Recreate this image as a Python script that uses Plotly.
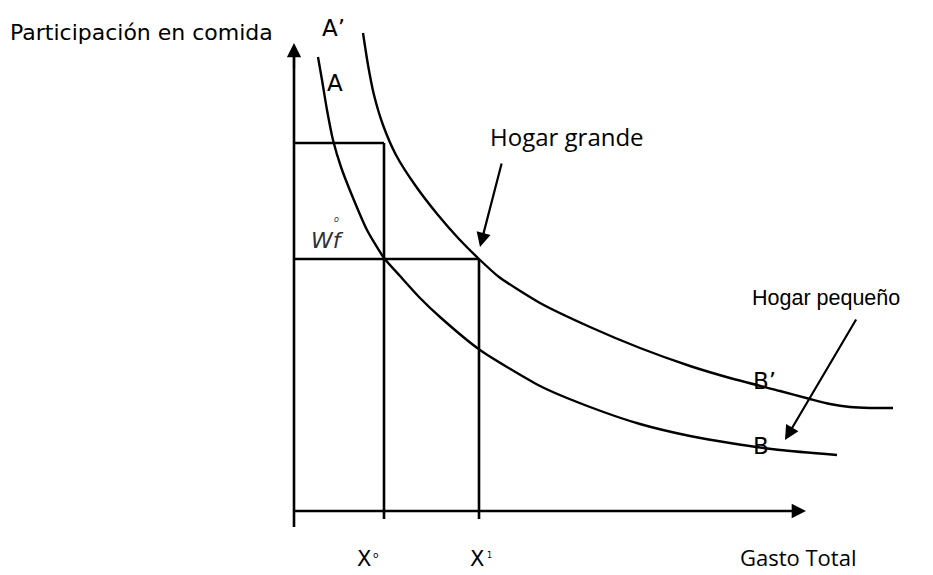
import plotly.graph_objects as go

# Curve A (small household, AB) and A' (large household, A'B') (pixel space)
curve_a_x = [318, 322, 327, 333, 341, 351, 367, 384, 400, 420, 440, 480, 540, 590, 640, 690, 730, 780, 837]
curve_a_y = [57, 80, 110, 140, 167, 193, 230, 258, 276, 298, 317, 350, 386, 407, 424, 436, 443, 450, 455]
curve_b_x = [363, 368, 374, 383, 396, 415, 438, 459, 479, 499, 540, 590, 640, 690, 730, 780, 810, 830, 850, 870, 893]
curve_b_y = [33, 65, 95, 125, 155, 185, 215, 239, 259, 277, 303, 327, 348, 366, 378, 391, 399, 404, 407, 408, 408]

# Axis frame
y_axis_x = [294, 294]
y_axis_y = [527, 50]
x_axis_x = [294, 798]
x_axis_y = [511, 511]

# Reference levels
x0_pos, x1_pos = 384, 479
wf_level, top_level = 259, 143
tick_bottom = 519

fig = go.Figure()

def seg(xs, ys, width=2.6):
    fig.add_trace(go.Scatter(x=xs, y=ys, mode="lines",
                             line=dict(color="black", width=width),
                             hoverinfo="skip", showlegend=False))

seg(y_axis_x, y_axis_y)
seg(x_axis_x, x_axis_y)
seg([x0_pos, x0_pos], [top_level, tick_bottom])
seg([x1_pos, x1_pos], [wf_level, tick_bottom])
seg([294, x1_pos], [wf_level, wf_level])
seg([294, x0_pos], [top_level, top_level])

for cx, cy in ((curve_a_x, curve_a_y), (curve_b_x, curve_b_y)):
    fig.add_trace(go.Scatter(x=cx, y=cy, mode="lines",
                             line=dict(color="black", width=2.4, shape="spline", smoothing=0.6),
                             hoverinfo="skip", showlegend=False))

FAM = "DejaVu Sans, sans-serif"
FAM2 = "Open Sans, Noto Sans, sans-serif"

def arrow(x, y, ax, ay):
    fig.add_annotation(x=x, y=y, ax=ax, ay=ay, xref="x", yref="y", axref="x", ayref="y",
                       text="", showarrow=True, arrowhead=2, arrowsize=1.3,
                       arrowwidth=2.2, arrowcolor="black", standoff=0)

# axis arrowheads
arrow(294, 43, 294, 70)
arrow(806, 511, 780, 511)
# label arrows
arrow(480, 247, 502, 162)
arrow(785, 440, 857, 318)

def label(x, y, text, size=22, family=FAM, color="black", anchor="left"):
    fig.add_annotation(x=x, y=y, xref="x", yref="y", text=text, showarrow=False,
                       font=dict(family=family, size=size, color=color),
                       xanchor=anchor, yanchor="middle")

label(8, 32, "Participación en comida", size=22)
label(320, 28, "A’", size=23)
label(325, 83, "A", size=23)
label(488, 136, "Hogar grande", size=24, family=FAM2)
label(309, 240, "<i>Wf</i>", size=22, color="#333333")
label(332, 219, "<i>o</i>", size=8, color="#333333")
label(750, 298, "Hogar pequeño", size=21.5, family="Liberation Sans, Arial, sans-serif")
label(751, 381, "B’", size=23)
label(751, 446, "B", size=23)
label(355, 559, "X", size=21)
label(371, 555, "o", size=9)
label(468, 559, "X", size=21)
label(485, 555, "1", size=8)
label(738, 557, "Gasto Total", size=22, family=FAM2)

fig.update_layout(
    width=933, height=575,
    margin=dict(l=0, r=0, t=0, b=0),
    plot_bgcolor="white", paper_bgcolor="white",
    xaxis=dict(range=[0, 933], visible=False, fixedrange=True),
    yaxis=dict(range=[575, 0], visible=False, fixedrange=True),
)
fig.write_html("out.html", config={"displayModeBar": False},
               post_script="document.body.style.margin='0px';")
